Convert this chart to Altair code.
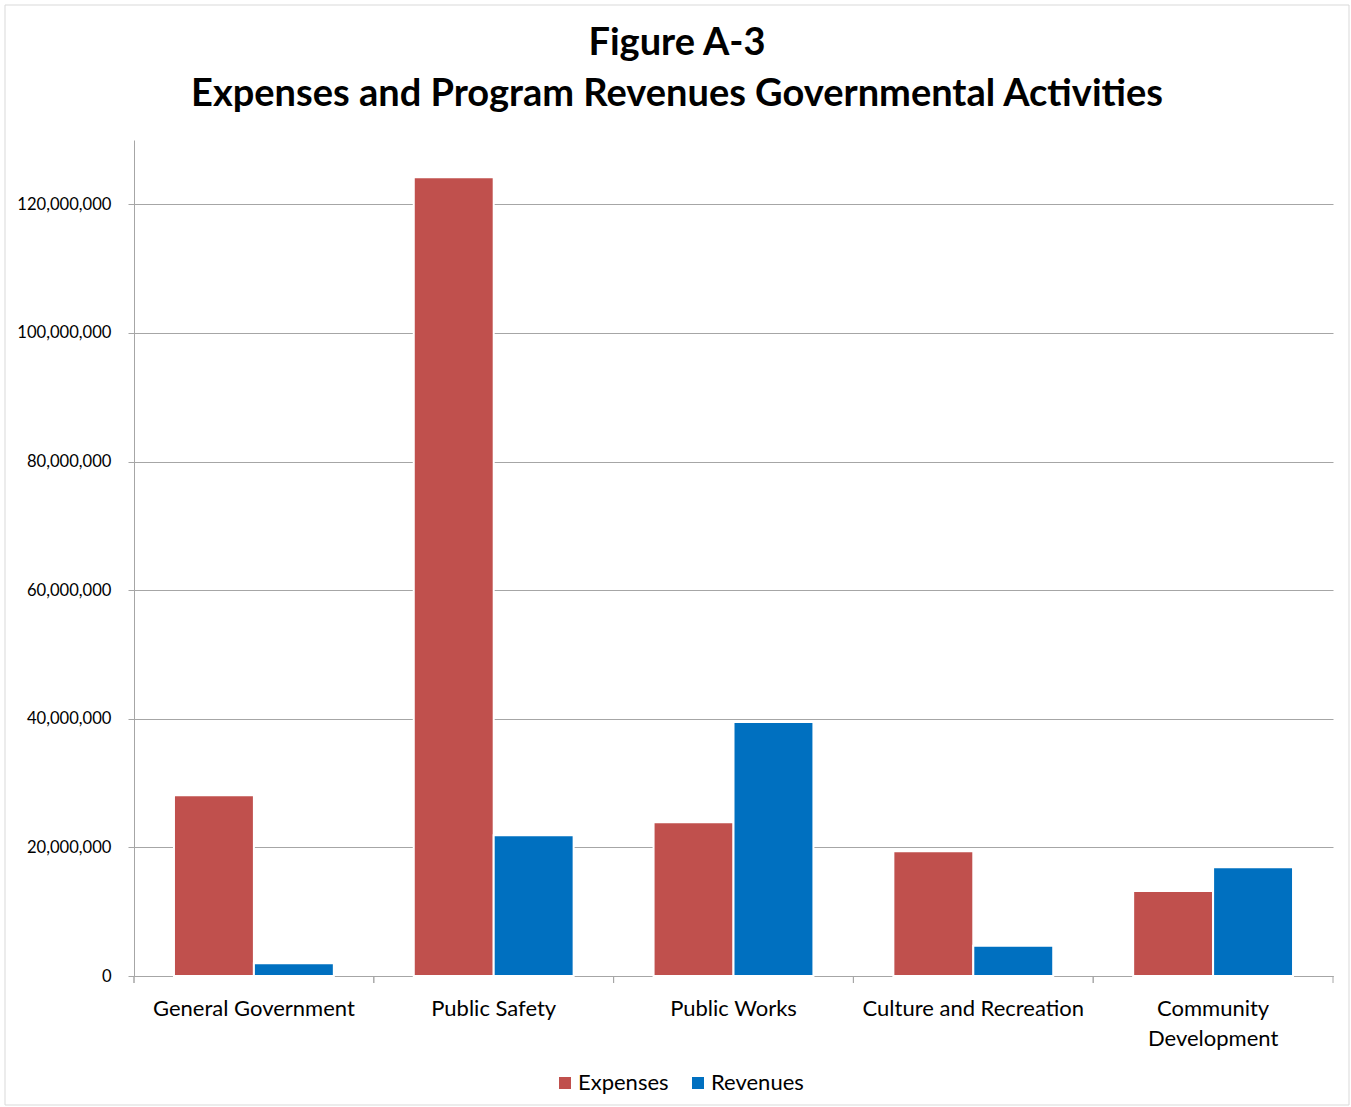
import altair as alt
import pandas as pd

categories = ["General Government", "Public Safety", "Public Works",
              "Culture and Recreation", "Community Development"]
expenses = [28_100_000, 124_200_000, 23_900_000, 19_400_000, 13_200_000]
revenues = [2_000_000, 21_900_000, 39_500_000, 4_700_000, 16_900_000]
series = ["Expenses", "Revenues"]
colors = ["#C0504D", "#0070C0"]
title_lines = ["Figure A-3", "Expenses and Program Revenues Governmental Activities"]

rows = []
for c, e, r in zip(categories, expenses, revenues):
    rows.append({"category": c, "series": "Expenses", "value": e})
    rows.append({"category": c, "series": "Revenues", "value": r})
df = pd.DataFrame(rows)

FONT = "Lato"
W, H = 1199, 836
GRID = "#A6A6A6"
STEP = W / len(categories)

xscale = alt.Scale(domain=categories, paddingInner=1/3, paddingOuter=1/6)

bars = alt.Chart(df).mark_bar(stroke="white", strokeWidth=2).encode(
    x=alt.X("category:N", scale=xscale, sort=categories, title=None,
            axis=alt.Axis(ticks=False, tickSize=0, labelAngle=0, labelPadding=22,
                          labelFontSize=22, labelFont=FONT, labelColor="#000000",
                          labelLineHeight=30, labelLimit=400, domainColor=GRID,
                          labelExpr="datum.label == 'Community Development' ? ['Community', 'Development'] : datum.label")),
    xOffset=alt.XOffset("series:N", sort=series,
                        scale=alt.Scale(paddingInner=0, paddingOuter=0)),
    y=alt.Y("value:Q", scale=alt.Scale(domain=[0, 130_000_000], nice=False),
            title=None,
            axis=alt.Axis(values=[0, 20e6, 40e6, 60e6, 80e6, 100e6, 120e6],
                          format=",.0f", labelFontSize=16.6, labelFont=FONT,
                          labelColor="#000000", tickSize=6, tickColor=GRID,
                          labelPadding=17, domainColor=GRID, gridColor=GRID)),
    color=alt.Color("series:N", sort=series,
                    scale=alt.Scale(domain=series, range=colors),
                    legend=alt.Legend(title=None, orient="none", direction="horizontal",
                                      legendX=420, legendY=932, symbolType="square",
                                      symbolSize=144, symbolStrokeWidth=0,
                                      labelFontSize=22, labelFont=FONT,
                                      labelColor="#000000", columnPadding=18,
                                      labelOffset=2)),
)

ticks = alt.Chart(df).mark_rule(color=GRID, strokeWidth=1, xOffset=-STEP / 6).encode(
    x=alt.X("category:N", scale=xscale, sort=categories, bandPosition=0),
    y=alt.value(H), y2=alt.value(H + 7),
)
last_tick = alt.Chart(df.head(1)).mark_rule(color=GRID, strokeWidth=1).encode(
    x=alt.value(W), y=alt.value(H), y2=alt.value(H + 7),
)
frame = alt.Chart(df.head(1)).mark_rect(fill=None, stroke="#D9D9D9", strokeWidth=1,
                                        clip=False).encode(
    x=alt.value(-129), x2=alt.value(W + 16), y=alt.value(-135), y2=alt.value(H + 129),
)

tdf = pd.DataFrame({"line": title_lines, "row": [0, 1]})
title1 = alt.Chart(tdf[tdf.row == 0]).mark_text(
    font=FONT, fontSize=38, fontWeight="bold", color="#000000",
    align="center", baseline="middle").encode(
    text="line:N", x=alt.value(677 - 134), y=alt.value(44 - 140))
title2 = alt.Chart(tdf[tdf.row == 1]).mark_text(
    font=FONT, fontSize=38, fontWeight="bold", color="#000000",
    align="center", baseline="middle").encode(
    text="line:N", x=alt.value(677 - 134), y=alt.value(95 - 140))

chart = alt.layer(frame, bars, ticks, last_tick, title1, title2).properties(
    width=W, height=H, background="white",
    autosize=alt.AutoSizeParams(type="none"),
    padding={"left": 134, "top": 140, "right": 18, "bottom": 131},
).configure_view(stroke=None)

chart.save("out.html", embed_options={"renderer": "svg", "actions": False})
